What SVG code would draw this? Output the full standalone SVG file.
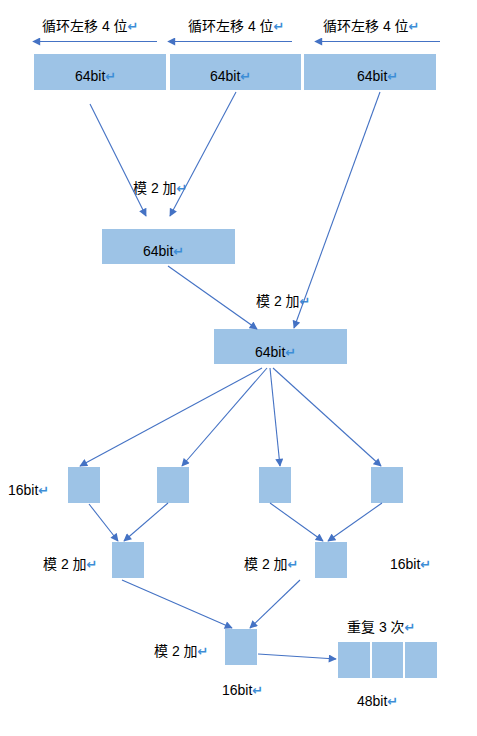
<svg xmlns="http://www.w3.org/2000/svg" width="477" height="736" viewBox="0 0 477 736">
<defs>
<marker id="ah" viewBox="0 0 10 10" refX="9" refY="5" markerWidth="9" markerHeight="8" markerUnits="userSpaceOnUse" orient="auto">
<path d="M0,0 L10,5 L0,10 z" fill="#4472C4"/>
</marker>
<style>
.box{fill:#9DC3E6;}
.t{font-family:"Liberation Sans","Noto Sans CJK SC",sans-serif;font-size:14px;fill:#000;}
.r{font-family:"DejaVu Sans",sans-serif;font-size:13px;fill:#3C8DD6;font-weight:bold;}
.c line{stroke:#4472C4;stroke-width:1.1;marker-end:url(#ah);}
</style>
</defs>
<rect width="477" height="736" fill="#fff"/>
<g id="labels-top">
<text class="t" x="42" y="31">循环左移 4 位<tspan class="r">↵</tspan></text>
<text class="t" x="188" y="31">循环左移 4 位<tspan class="r">↵</tspan></text>
<text class="t" x="323" y="31">循环左移 4 位<tspan class="r">↵</tspan></text>
</g>
<g id="top1"><rect class="box" x="34" y="54" width="132" height="36"/><text class="t" x="75" y="81">64bit<tspan class="r">↵</tspan></text></g>
<g id="top2"><rect class="box" x="170" y="54" width="131" height="36"/><text class="t" x="210" y="81">64bit<tspan class="r">↵</tspan></text></g>
<g id="top3"><rect class="box" x="304" y="54" width="132" height="36"/><text class="t" x="357" y="81">64bit<tspan class="r">↵</tspan></text></g>
<g id="mid1"><rect class="box" x="102" y="229" width="133" height="35"/><text class="t" x="143" y="256">64bit<tspan class="r">↵</tspan></text></g>
<g id="mid2"><rect class="box" x="214" y="329" width="133" height="35"/><text class="t" x="255" y="357">64bit<tspan class="r">↵</tspan></text></g>
<g id="s1"><rect class="box" x="68" y="467" width="32" height="36"/></g>
<g id="s2"><rect class="box" x="157" y="467" width="32" height="36"/></g>
<g id="s3"><rect class="box" x="259" y="467" width="32" height="36"/></g>
<g id="s4"><rect class="box" x="371" y="467" width="32" height="36"/></g>
<g id="x1"><rect class="box" x="112" y="542" width="32" height="36"/></g>
<g id="x2"><rect class="box" x="315" y="542" width="32" height="36"/></g>
<g id="x3"><rect class="box" x="225" y="629" width="32" height="36"/></g>
<g id="rep">
<rect class="box" x="338" y="642" width="32" height="36"/>
<rect class="box" x="372" y="642" width="31" height="36"/>
<rect class="box" x="405" y="642" width="32" height="36"/>
</g>
<g id="labels">
<text class="t" x="133" y="193">模 2 加<tspan class="r">↵</tspan></text>
<text class="t" x="256" y="306">模 2 加<tspan class="r">↵</tspan></text>
<text class="t" x="8" y="495">16bit<tspan class="r">↵</tspan></text>
<text class="t" x="43" y="569">模 2 加<tspan class="r">↵</tspan></text>
<text class="t" x="244" y="569">模 2 加<tspan class="r">↵</tspan></text>
<text class="t" x="390" y="569">16bit<tspan class="r">↵</tspan></text>
<text class="t" x="154" y="656">模 2 加<tspan class="r">↵</tspan></text>
<text class="t" x="347" y="632">重复 3 次<tspan class="r">↵</tspan></text>
<text class="t" x="222" y="695">16bit<tspan class="r">↵</tspan></text>
<text class="t" x="357" y="706">48bit<tspan class="r">↵</tspan></text>
</g>
<g id="connectors" class="c">
<line x1="157" y1="41.5" x2="33" y2="41.5"/>
<line x1="292" y1="41.5" x2="168" y2="41.5"/>
<line x1="440" y1="41.5" x2="315" y2="41.5"/>
<line x1="90" y1="104" x2="146" y2="216"/>
<line x1="236" y1="92" x2="170" y2="216"/>
<line x1="380" y1="92" x2="294" y2="328"/>
<line x1="168" y1="266" x2="257" y2="329"/>
<line x1="262" y1="368" x2="80" y2="466"/>
<line x1="267" y1="368" x2="182" y2="466"/>
<line x1="270" y1="368" x2="280" y2="466"/>
<line x1="273" y1="368" x2="381" y2="466"/>
<line x1="89" y1="504" x2="118" y2="541"/>
<line x1="168" y1="503" x2="124" y2="541"/>
<line x1="270" y1="503" x2="323" y2="541"/>
<line x1="382" y1="503" x2="328" y2="541"/>
<line x1="122" y1="580" x2="232" y2="628"/>
<line x1="300" y1="580" x2="250" y2="628"/>
<line x1="258" y1="654" x2="336" y2="659"/>
</g>
</svg>
